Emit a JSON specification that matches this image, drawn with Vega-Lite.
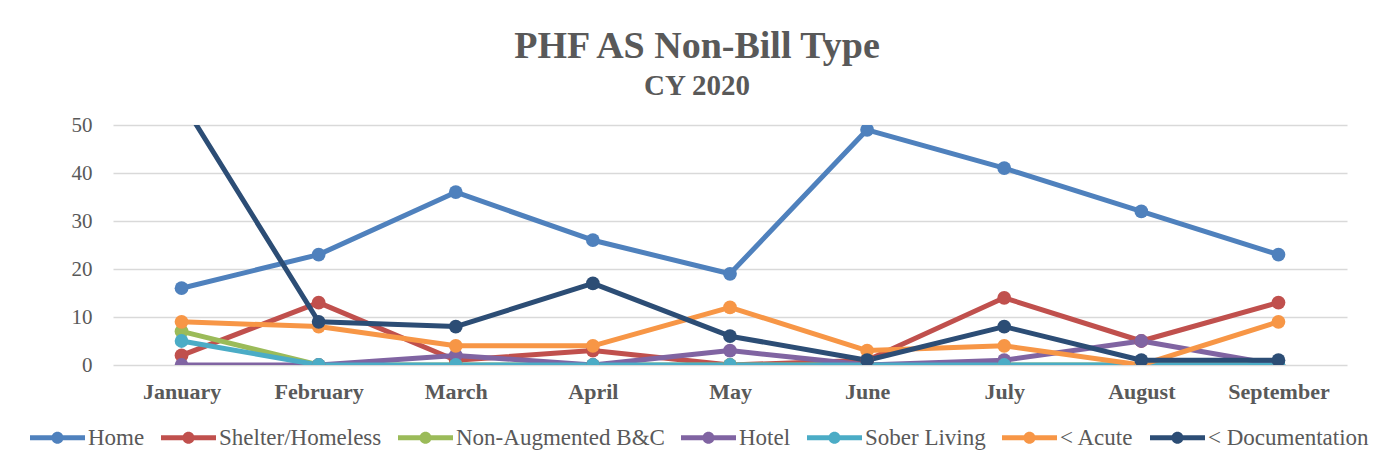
{
  "$schema": "https://vega.github.io/schema/vega-lite/v6.json",
  "autosize": "none",
  "width": 1234,
  "height": 240,
  "padding": {"left": 113, "top": 125, "right": 48, "bottom": 102},
  "background": "white",
  "title": {
    "text": "PHF AS Non-Bill Type",
    "subtitle": "CY 2020",
    "font": "Liberation Serif",
    "fontSize": 38,
    "fontWeight": "bold",
    "color": "#595959",
    "subtitleFont": "Liberation Serif",
    "subtitleFontSize": 29,
    "subtitleFontWeight": "bold",
    "subtitleColor": "#595959",
    "subtitlePadding": 6,
    "anchor": "middle",
    "dx": -33,
    "offset": 13
  },
  "data": {
    "values": [
      {"month": "January", "series": "Home", "value": 16},
      {"month": "February", "series": "Home", "value": 23},
      {"month": "March", "series": "Home", "value": 36},
      {"month": "April", "series": "Home", "value": 26},
      {"month": "May", "series": "Home", "value": 19},
      {"month": "June", "series": "Home", "value": 49},
      {"month": "July", "series": "Home", "value": 41},
      {"month": "August", "series": "Home", "value": 32},
      {"month": "September", "series": "Home", "value": 23},
      {"month": "January", "series": "Shelter/Homeless", "value": 2},
      {"month": "February", "series": "Shelter/Homeless", "value": 13},
      {"month": "March", "series": "Shelter/Homeless", "value": 1},
      {"month": "April", "series": "Shelter/Homeless", "value": 3},
      {"month": "May", "series": "Shelter/Homeless", "value": 0},
      {"month": "June", "series": "Shelter/Homeless", "value": 1},
      {"month": "July", "series": "Shelter/Homeless", "value": 14},
      {"month": "August", "series": "Shelter/Homeless", "value": 5},
      {"month": "September", "series": "Shelter/Homeless", "value": 13},
      {"month": "January", "series": "Non-Augmented B&C", "value": 7},
      {"month": "February", "series": "Non-Augmented B&C", "value": 0},
      {"month": "March", "series": "Non-Augmented B&C", "value": 0},
      {"month": "April", "series": "Non-Augmented B&C", "value": 0},
      {"month": "May", "series": "Non-Augmented B&C", "value": 0},
      {"month": "June", "series": "Non-Augmented B&C", "value": 0},
      {"month": "July", "series": "Non-Augmented B&C", "value": 0},
      {"month": "August", "series": "Non-Augmented B&C", "value": 0},
      {"month": "September", "series": "Non-Augmented B&C", "value": 0},
      {"month": "January", "series": "Hotel", "value": 0},
      {"month": "February", "series": "Hotel", "value": 0},
      {"month": "March", "series": "Hotel", "value": 2},
      {"month": "April", "series": "Hotel", "value": 0},
      {"month": "May", "series": "Hotel", "value": 3},
      {"month": "June", "series": "Hotel", "value": 0},
      {"month": "July", "series": "Hotel", "value": 1},
      {"month": "August", "series": "Hotel", "value": 5},
      {"month": "September", "series": "Hotel", "value": 0},
      {"month": "January", "series": "Sober Living", "value": 5},
      {"month": "February", "series": "Sober Living", "value": 0},
      {"month": "March", "series": "Sober Living", "value": 0},
      {"month": "April", "series": "Sober Living", "value": 0},
      {"month": "May", "series": "Sober Living", "value": 0},
      {"month": "June", "series": "Sober Living", "value": 0},
      {"month": "July", "series": "Sober Living", "value": 0},
      {"month": "August", "series": "Sober Living", "value": 0},
      {"month": "September", "series": "Sober Living", "value": 0},
      {"month": "January", "series": "< Acute", "value": 9},
      {"month": "February", "series": "< Acute", "value": 8},
      {"month": "March", "series": "< Acute", "value": 4},
      {"month": "April", "series": "< Acute", "value": 4},
      {"month": "May", "series": "< Acute", "value": 12},
      {"month": "June", "series": "< Acute", "value": 3},
      {"month": "July", "series": "< Acute", "value": 4},
      {"month": "August", "series": "< Acute", "value": 0},
      {"month": "September", "series": "< Acute", "value": 9},
      {"month": "January", "series": "< Documentation", "value": 55},
      {"month": "February", "series": "< Documentation", "value": 9},
      {"month": "March", "series": "< Documentation", "value": 8},
      {"month": "April", "series": "< Documentation", "value": 17},
      {"month": "May", "series": "< Documentation", "value": 6},
      {"month": "June", "series": "< Documentation", "value": 1},
      {"month": "July", "series": "< Documentation", "value": 8},
      {"month": "August", "series": "< Documentation", "value": 1},
      {"month": "September", "series": "< Documentation", "value": 1}
    ]
  },
  "encoding": {
    "x": {
      "field": "month",
      "type": "nominal",
      "sort": ["January", "February", "March", "April", "May", "June", "July", "August", "September"],
      "scale": {"type": "point", "padding": 0.5},
      "axis": {
        "title": null,
        "domain": false,
        "ticks": false,
        "tickSize": 0,
        "grid": false,
        "labelAngle": 0,
        "labelFont": "Liberation Serif",
        "labelFontSize": 22,
        "labelFontWeight": "bold",
        "labelColor": "#595959",
        "labelPadding": 16
      }
    },
    "y": {
      "field": "value",
      "type": "quantitative",
      "scale": {"domain": [0, 50], "nice": false},
      "axis": {
        "title": null,
        "domain": false,
        "ticks": false,
        "tickSize": 0,
        "values": [0, 10, 20, 30, 40, 50],
        "grid": true,
        "gridColor": "#D9D9D9",
        "gridWidth": 1.5,
        "labelFont": "Times New Roman, Liberation Serif, DejaVu Serif, serif",
        "labelFontSize": 21,
        "labelColor": "#595959",
        "labelPadding": 21
      }
    },
    "color": {
      "field": "series",
      "type": "nominal",
      "sort": ["Home", "Shelter/Homeless", "Non-Augmented B&C", "Hotel", "Sober Living", "< Acute", "< Documentation"],
      "scale": {
        "domain": ["Home", "Shelter/Homeless", "Non-Augmented B&C", "Hotel", "Sober Living", "< Acute", "< Documentation"],
        "range": ["#4F81BD", "#C0504D", "#9BBB59", "#8064A2", "#4BACC6", "#F79646", "#2C4D75"]
      },
      "legend": {
        "title": null,
        "orient": "none",
        "direction": "horizontal",
        "legendX": -83,
        "legendY": 285,
        "padding": 0,
        "columnPadding": 16,
        "labelFont": "Times New Roman, Liberation Serif, DejaVu Serif, serif",
        "labelFontSize": 23,
        "labelColor": "#595959",
        "labelOffset": 3,
        "labelLimit": 0,
        "symbolSize": 3025,
        "symbolStrokeWidth": 0,
        "symbolType": "M-1,-0.09L1,-0.09L1,0.09L-1,0.09Z M0.22,0A0.22,0.22,0,1,1,-0.22,0A0.22,0.22,0,1,1,0.22,0Z",
        "encode": {
          "symbols": {
            "update": {
              "fill": {"scale": "color", "field": "value"},
              "stroke": {"value": "transparent"},
              "opacity": {"value": 1}
            }
          }
        }
      }
    }
  },
  "layer": [
    {
      "mark": {"type": "line", "strokeWidth": 5, "strokeCap": "round", "strokeJoin": "round", "clip": true}
    },
    {
      "mark": {"type": "point", "filled": true, "size": 190, "opacity": 1, "clip": true}
    }
  ],
  "config": {
    "view": {"stroke": null}
  }
}
